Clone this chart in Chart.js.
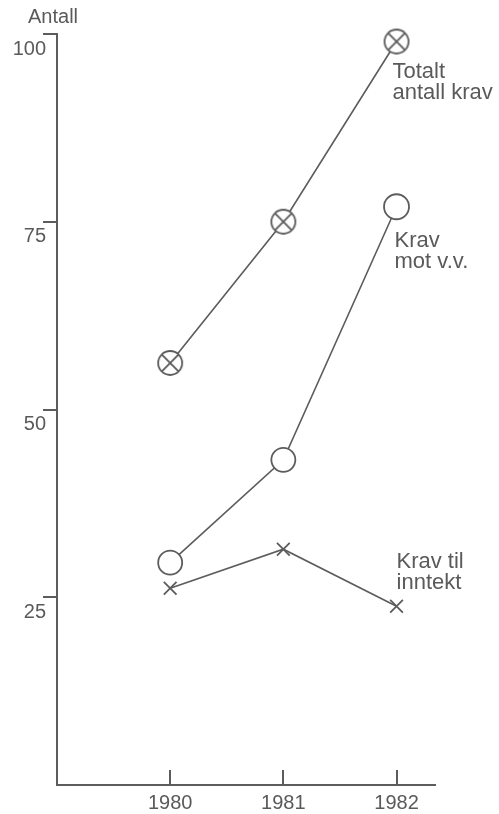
<!DOCTYPE html>
<html>
<head>
<meta charset="utf-8">
<script src="https://cdn.jsdelivr.net/npm/chart.js@4/dist/chart.umd.min.js"></script>
<style>
  html, body { margin: 0; padding: 0; background: #ffffff; }
  #wrap { width: 499px; height: 814px; }
</style>
</head>
<body>
<div id="wrap"><canvas id="c" width="499" height="814"></canvas></div>
<script>
// ---- data ----
const years = [1980, 1981, 1982];
const totaltAntallKrav = [56.2, 75.0, 99.0];
const kravMotVV = [29.6, 43.3, 77.0];
const kravTilInntekt = [26.2, 31.4, 23.8];
const yTickValues = [25, 50, 75, 100];
const xTickValues = [1980, 1981, 1982];
const yAxisTitle = 'Antall';
const seriesNames = ['Totalt antall krav', 'Krav mot v.v.', 'Krav til inntekt'];
const seriesLabelLines = [['Totalt', 'antall krav'], ['Krav', 'mot v.v.'], ['Krav til', 'inntekt']];

// ---- styles ----
const ink = '#5c5c5c';
const textInk = '#5a5a5a';
const fontFamily = '"Liberation Sans", Arial, Helvetica, sans-serif';
const labelOffsets = [{dx: -4, dy: 30}, {dx: -2, dy: 34}, {dx: 0, dy: -44}];

function makeCrossedCircle() {
  const c = document.createElement('canvas');
  c.width = 30; c.height = 30;
  const g = c.getContext('2d');
  g.fillStyle = '#ffffff';
  g.strokeStyle = ink;
  g.lineWidth = 1.8;
  g.beginPath(); g.arc(15, 15, 12, 0, Math.PI * 2); g.fill(); g.stroke();
  const d = 8.3;
  g.beginPath();
  g.moveTo(15 - d, 15 - d); g.lineTo(15 + d, 15 + d);
  g.moveTo(15 + d, 15 - d); g.lineTo(15 - d, 15 + d);
  g.stroke();
  return c;
}

const toPoints = arr => years.map((yr, i) => ({x: yr, y: arr[i]}));

const annotPlugin = {
  id: 'annot',
  afterDraw(chart) {
    const {ctx} = chart;
    const xs = chart.scales.x, ys = chart.scales.y;
    ctx.save();
    ctx.strokeStyle = ink;
    ctx.lineWidth = 2;
    xTickValues.forEach(v => {
      const px = Math.round(xs.getPixelForValue(v));
      ctx.beginPath();
      ctx.moveTo(px, ys.bottom);
      ctx.lineTo(px, ys.bottom - 15);
      ctx.stroke();
    });
    ctx.fillStyle = textInk;
    ctx.textBaseline = 'middle';
    ctx.textAlign = 'left';
    ctx.font = '20px ' + fontFamily;
    ctx.fillText(yAxisTitle, 28, 17);
    ctx.font = '22px ' + fontFamily;
    chart.data.datasets.forEach((ds, i) => {
      const last = ds.data[ds.data.length - 1];
      const px = xs.getPixelForValue(last.x) + labelOffsets[i].dx;
      const py = ys.getPixelForValue(last.y) + labelOffsets[i].dy;
      seriesLabelLines[i].forEach((t, j) => ctx.fillText(t, px, py + j * 21));
    });
    ctx.restore();
  }
};

new Chart(document.getElementById('c'), {
  type: 'line',
  data: {
    datasets: [
      {
        label: seriesNames[0],
        data: toPoints(totaltAntallKrav),
        borderColor: ink, borderWidth: 1.6, tension: 0,
        pointStyle: makeCrossedCircle(), pointRadius: 13, clip: false
      },
      {
        label: seriesNames[1],
        data: toPoints(kravMotVV),
        borderColor: ink, borderWidth: 1.6, tension: 0,
        pointStyle: 'circle', pointRadius: [12, 12, 12.5], pointBorderWidth: 1.8,
        pointBorderColor: ink, pointBackgroundColor: '#ffffff', clip: false
      },
      {
        label: seriesNames[2],
        data: toPoints(kravTilInntekt),
        borderColor: ink, borderWidth: 1.6, tension: 0,
        pointStyle: 'crossRot', pointRadius: 9, pointBorderWidth: 1.8,
        pointBorderColor: ink, pointBackgroundColor: ink, clip: false
      }
    ]
  },
  options: {
    responsive: false,
    animation: false,
    devicePixelRatio: 1,
    layout: {padding: {top: 34, right: 64, left: 0, bottom: 0}},
    plugins: {legend: {display: false}, tooltip: {enabled: false}},
    scales: {
      x: {
        type: 'linear',
        min: 1979, max: 1982.34,
        afterBuildTicks: s => { s.ticks = xTickValues.map(v => ({value: v})); },
        afterFit: s => { s.height = 29; },
        grid: {drawOnChartArea: false, drawTicks: false},
        border: {display: true, color: ink, width: 2},
        ticks: {
          color: textInk, padding: 6,
          font: {family: fontFamily, size: 20},
          callback: v => String(v)
        }
      },
      y: {
        min: 0, max: 100,
        afterBuildTicks: s => { s.ticks = yTickValues.map(v => ({value: v})); },
        afterFit: s => { s.width = 57; },
        grid: {drawOnChartArea: false, drawTicks: true, tickLength: 14, color: ink, lineWidth: 2},
        border: {display: true, color: ink, width: 2},
        ticks: {
          color: textInk, padding: -3, labelOffset: 15,
          font: {family: fontFamily, size: 20}
        }
      }
    }
  },
  plugins: [annotPlugin]
});
</script>
</body>
</html>
